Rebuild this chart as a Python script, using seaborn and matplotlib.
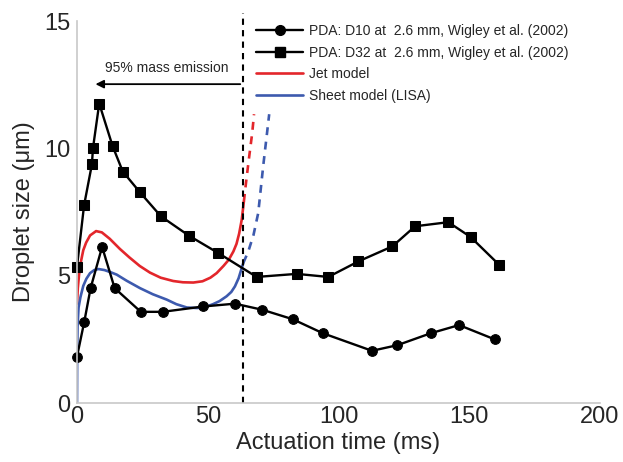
import matplotlib
matplotlib.use('Agg')
import matplotlib.pyplot as plt
import seaborn as sns
from matplotlib.lines import Line2D

# 实验数据 (Wigley et al. 2002)
d10_t = [0, 2.8, 5.2, 9.6, 14.4, 24.4, 32.8, 48.3, 60.4, 70.9, 82.5, 94.0, 112.8, 122.5, 135.3, 146.1, 159.7]
d10_d = [1.82, 3.2, 4.51, 6.13, 4.51, 3.58, 3.58, 3.79, 3.9, 3.66, 3.29, 2.74, 2.05, 2.27, 2.74, 3.06, 2.5]

d32_t = [0, 2.7, 5.7, 6.1, 8.5, 13.6, 17.5, 24.1, 32.1, 42.8, 54.0, 68.7, 84.0, 96.1, 107.6, 120.6, 129.3, 142.0, 150.5, 161.4]
d32_d = [5.35, 7.76, 9.37, 10.0, 11.76, 10.09, 9.09, 8.27, 7.33, 6.57, 5.89, 4.95, 5.07, 4.95, 5.56, 6.15, 6.94, 7.1, 6.52, 5.43]

# 模型曲线
jet_t = [0, 0.3, 0.8, 1.5, 2.4, 3.5, 5.0, 7.3, 9.5, 12.5, 16.4, 20, 24, 27.9, 32, 36.8, 40.5, 44.5, 48,
         51, 53.4, 56, 58, 59.8, 61, 62, 63, 63.8]
jet_d = [3.9, 4.5, 5.05, 5.55, 6.0, 6.3, 6.58, 6.75, 6.7, 6.45, 6.05, 5.72, 5.38, 5.12, 4.92, 4.79, 4.74, 4.73, 4.78,
         4.92, 5.1, 5.38, 5.62, 5.95, 6.25, 6.65, 7.2, 7.9]
jet_dash_t = [63.8, 64.8, 66.0, 67.0, 67.7]
jet_dash_d = [7.9, 8.8, 9.8, 10.6, 11.34]

sheet_t = [0, 0.05, 0.2, 0.6, 1.3, 2.4, 3.6, 5.0, 6.6, 8.2, 10.5, 13, 15.2, 19, 24.1, 29, 34.3, 38, 42.0, 46,
           49.6, 52, 54.5, 57.2, 59, 60.4, 61.8, 63.0, 63.6]
sheet_d = [0, 1.5, 3.0, 3.75, 4.15, 4.6, 4.88, 5.1, 5.22, 5.26, 5.22, 5.13, 5.04, 4.8, 4.51, 4.27, 4.06, 3.88,
           3.75, 3.73, 3.79, 3.88, 4.0, 4.19, 4.36, 4.58, 4.9, 5.3, 5.5]
sheet_dash_t = [63.6, 65.5, 67.5, 69.3, 71.2, 73.5]
sheet_dash_d = [5.5, 5.95, 6.6, 7.46, 9.3, 11.34]

emission_t = 63.5

red = '#e3262b'
blue = '#3d5aae'

sns.set_style('white')
plt.rcParams['font.family'] = ['Liberation Sans', 'DejaVu Sans']

fig = plt.figure(figsize=(6.23, 4.62), dpi=100)
ax = fig.add_axes([77 / 623, 59 / 462, 523 / 623, 382 / 462])

sns.lineplot(x=jet_t, y=jet_d, sort=False, color=red, lw=1.9, ax=ax)
sns.lineplot(x=jet_dash_t, y=jet_dash_d, sort=False, color=red, lw=1.9, ls=(0, (3, 2.5)), ax=ax)
sns.lineplot(x=sheet_t, y=sheet_d, sort=False, color=blue, lw=1.9, ax=ax)
sns.lineplot(x=sheet_dash_t, y=sheet_dash_d, sort=False, color=blue, lw=1.9, ls=(0, (3, 2.5)), ax=ax)

sns.lineplot(x=d10_t, y=d10_d, sort=False, color='black', lw=1.7, marker='o', ms=7,
             markeredgecolor='black', clip_on=False, ax=ax)
sns.lineplot(x=d32_t, y=d32_d, sort=False, color='black', lw=1.7, marker='s', ms=7,
             markeredgecolor='black', clip_on=False, ax=ax)

# 95% 质量喷射线
ax.plot([emission_t, emission_t], [0, 15.3], color='black', lw=1.5, ls=(0, (3, 2.5)), clip_on=False)
ax.annotate('', xy=(6.0, 12.52), xytext=(emission_t, 12.52),
            arrowprops=dict(arrowstyle='-|>', color='black', lw=1.3, mutation_scale=12))
ax.text(34.5, 13.15, '95% mass emission', ha='center', va='center', fontsize=10)

ax.set_xlim(0, 200)
ax.set_ylim(0, 15)
ax.set_xticks([0, 50, 100, 150, 200])
ax.set_yticks([0, 5, 10, 15])
ax.tick_params(axis='both', labelsize=17, length=3, color='#888888', pad=2)
ax.tick_params(axis='x', direction='in')
ax.set_xlabel('Actuation time (ms)', fontsize=17, labelpad=3)
ax.set_ylabel('Droplet size (μm)', fontsize=17, labelpad=6)
for s in ['top', 'right']:
    ax.spines[s].set_visible(False)
for s in ['left', 'bottom']:
    ax.spines[s].set_color('#c8c8c8')
    ax.spines[s].set_linewidth(1.2)

handles = [
    Line2D([], [], color='black', lw=1.7, marker='o', ms=7),
    Line2D([], [], color='black', lw=1.7, marker='s', ms=7),
    Line2D([], [], color=red, lw=1.9),
    Line2D([], [], color=blue, lw=1.9),
]
labels = ['PDA: D10 at  2.6 mm, Wigley et al. (2002)',
          'PDA: D32 at  2.6 mm, Wigley et al. (2002)',
          'Jet model', 'Sheet model (LISA)']
fig.legend(handles, labels, loc='upper left', bbox_to_anchor=(256 / 623, 1 - 24 / 462),
           frameon=False, fontsize=10, handlelength=3.4, handletextpad=0.45,
           labelspacing=0.55, borderpad=0, borderaxespad=0)

plt.savefig('out.png', dpi=100)
